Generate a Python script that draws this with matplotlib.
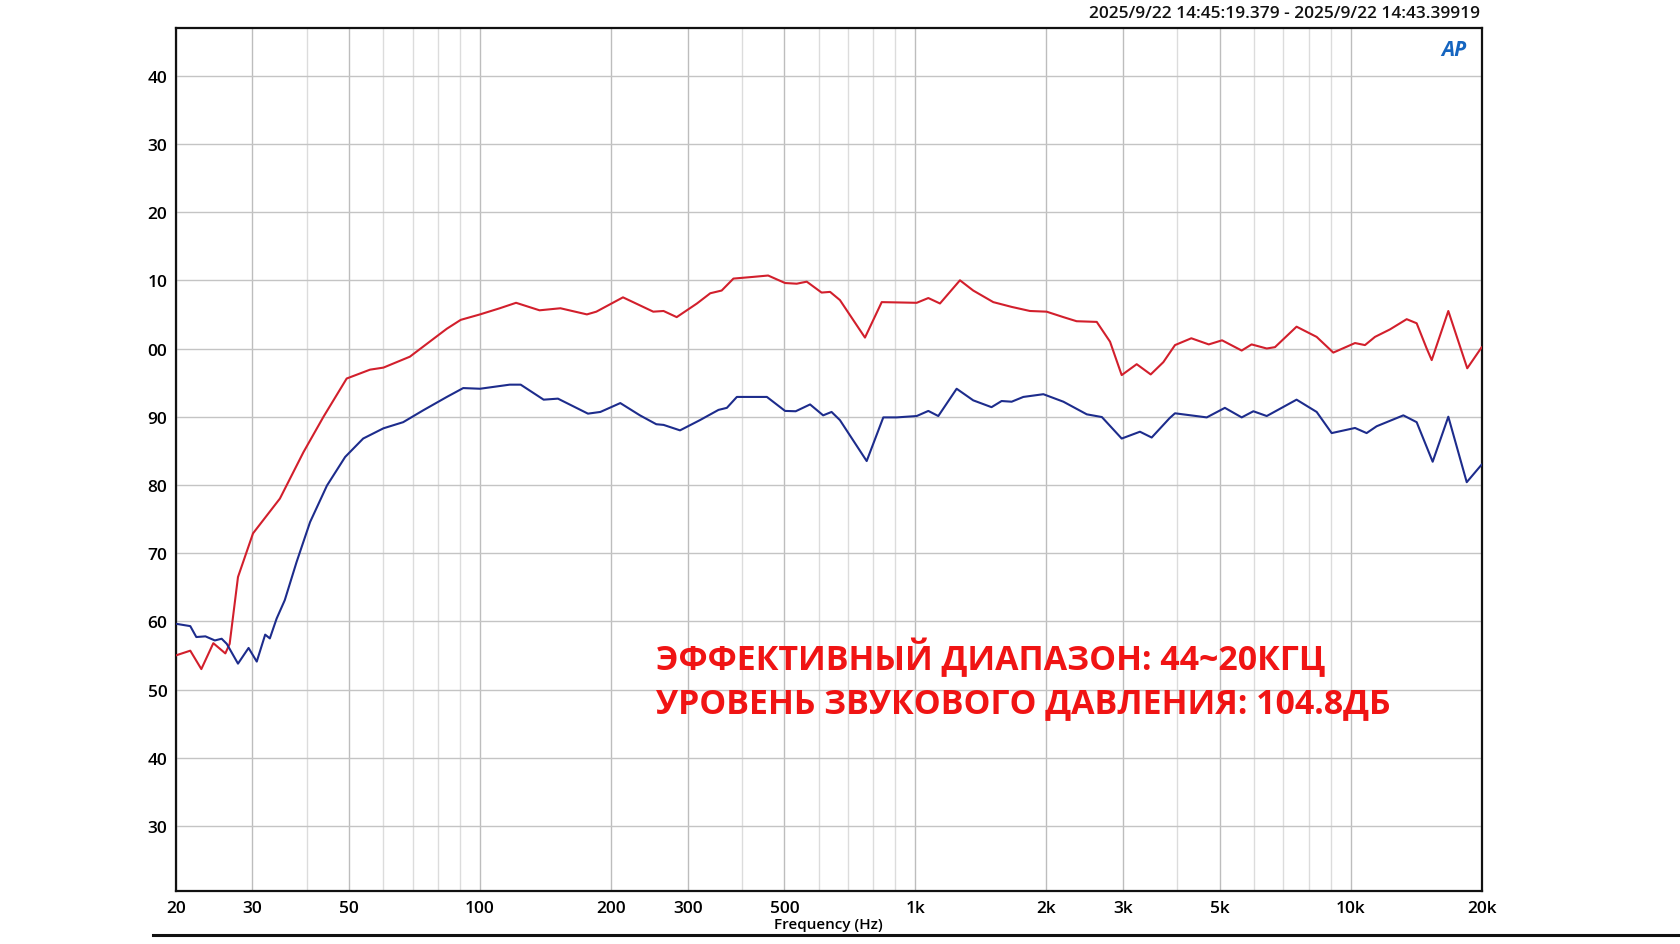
import numpy as np
import matplotlib
matplotlib.use("Agg")
import matplotlib.pyplot as plt
from matplotlib.lines import Line2D

# ---------------- data ----------------
red_freq = [20, 21.6, 22.9, 24.4, 26.0, 26.6, 27.8, 30.1, 34.7, 39.3, 43.7, 49.4, 55.9, 60.0,
            69.0, 83.9, 90.3, 100, 111, 121, 137, 153, 176, 185, 213, 250, 264, 283, 315, 338,
            359, 382, 424, 459, 502, 534, 563, 609, 637, 671, 766, 837, 1007, 1071, 1139, 1266,
            1358, 1510, 1664, 1833, 2002, 2188, 2346, 2610, 2800, 2978, 3224, 3472, 3712, 3948,
            4304, 4720, 5064, 5618, 5920, 6414, 6700, 7510, 8352, 9120, 10230, 10784, 11368,
            12308, 13446, 14174, 14946, 15348, 16758, 18522, 20000]
red_db = [55.0, 55.7, 53.0, 56.8, 55.3, 56.7, 66.5, 72.9, 78.0, 84.8, 90.0, 95.6, 96.9, 97.2,
          98.8, 102.9, 104.2, 105.0, 105.9, 106.7, 105.6, 105.9, 105.0, 105.4, 107.5, 105.4,
          105.5, 104.6, 106.6, 108.1, 108.5, 110.25, 110.5, 110.7, 109.6, 109.5, 109.8, 108.2,
          108.3, 107.1, 101.6, 106.8, 106.7, 107.4, 106.6, 110.0, 108.5, 106.8, 106.1, 105.5,
          105.4, 104.6, 104.0, 103.9, 101.0, 96.1, 97.7, 96.2, 98.0, 100.5, 101.5, 100.6, 101.2,
          99.7, 100.6, 100.0, 100.2, 103.2, 101.7, 99.4, 100.8, 100.5, 101.7, 102.8, 104.3,
          103.7, 100.0, 98.3, 105.5, 97.1, 100.2]

blue_freq = [20, 21.6, 22.3, 23.4, 24.6, 25.5, 26.2, 27.8, 29.4, 30.7, 32.1, 32.9, 34.1, 35.6,
             37.9, 40.7, 44.5, 49.0, 53.9, 60.0, 66.6, 74.1, 83.9, 91.5, 100, 117, 124, 140, 151,
             177, 189, 210, 233, 254, 264, 288, 320, 353, 369, 389, 456, 502, 531, 573, 614, 642,
             671, 773, 844, 906, 1007, 1071, 1129, 1244, 1358, 1496, 1578, 1664, 1770, 1968,
             2188, 2476, 2682, 2978, 3280, 3490, 3838, 3948, 4670, 5140, 5618, 5976, 6414, 7510,
             8352, 9042, 10230, 10878, 11470, 13210, 14174, 15426, 16758, 18472, 20000]
blue_db = [59.65, 59.3, 57.7, 57.8, 57.2, 57.45, 56.7, 53.8, 56.1, 54.1, 58.05, 57.5, 60.4, 63.1,
           68.7, 74.55, 79.9, 84.1, 86.8, 88.3, 89.2, 90.95, 92.9, 94.2, 94.1, 94.7, 94.7, 92.5,
           92.65, 90.45, 90.7, 92.0, 90.2, 88.9, 88.8, 88.0, 89.5, 91.0, 91.3, 92.9, 92.9, 90.85,
           90.8, 91.8, 90.2, 90.7, 89.5, 83.5, 89.9, 89.9, 90.1, 90.85, 90.1, 94.1, 92.4, 91.4,
           92.3, 92.2, 92.9, 93.3, 92.2, 90.35, 89.95, 86.8, 87.8, 86.95, 89.8, 90.5, 89.9, 91.3,
           89.9, 90.8, 90.1, 92.5, 90.7, 87.6, 88.35, 87.6, 88.6, 90.2, 89.2, 83.4, 90.0, 80.4,
           83.0]

x_ticks = [20, 30, 50, 100, 200, 300, 500, 1000, 2000, 3000, 5000, 10000, 20000]
x_tick_labels = ["20", "30", "50", "100", "200", "300", "500", "1k", "2k", "3k", "5k", "10k", "20k"]
y_ticks = [30, 40, 50, 60, 70, 80, 90, 100, 110, 120, 130, 140]
y_tick_labels = ["%02d" % (v % 100) for v in y_ticks]   # left digit is cut off in the source

grid_freqs = [m * d for d in (10, 100, 1000, 10000) for m in range(1, 10)
              if 20 <= m * d <= 20000] + [20000]

timestamp = "2025/9/22 14:45:19.379 - 2025/9/22 14:43.39919"
note_line1 = "ЭФФЕКТИВНЫЙ ДИАПАЗОН: 44~20КГЦ"
note_line2 = "УРОВЕНЬ ЗВУКОВОГО ДАВЛЕНИЯ: 104.8ДБ"

# ---------------- figure ----------------
plt.rcParams['font.family'] = ['Open Sans', 'DejaVu Sans']
fig = plt.figure(figsize=(16.8, 9.45), dpi=100)
fig.patch.set_facecolor('white')
ax = fig.add_axes([0.1046, 0.0556, 0.882 - 0.1046, 0.9694 - 0.0556])

for f in grid_freqs:
    major = f in x_ticks
    ax.axvline(f, color='#bdbdbd' if major else '#dcdcdc', lw=1.0, zorder=0)
for v in y_ticks:
    ax.axhline(v, color='#c4c4c4', lw=1.0, zorder=0)

ax.plot(red_freq, red_db, color='#d21f2c', lw=1.5, zorder=3,
        solid_joinstyle='round', solid_capstyle='round')
ax.plot(blue_freq, blue_db, color='#1d2c8c', lw=1.5, zorder=3,
        solid_joinstyle='round', solid_capstyle='round')

ax.set_xscale('log')
ax.set_xlim(20, 20000)
ax.set_ylim(20.4, 147)
ax.minorticks_off()
ax.set_xticks(x_ticks)
ax.set_xticklabels(x_tick_labels)
ax.set_yticks(y_ticks)
ax.set_yticklabels(y_tick_labels)
ax.tick_params(axis='both', length=0, labelsize=12.5)
ax.tick_params(axis='x', pad=6)
ax.tick_params(axis='y', pad=6)
for lab in ax.get_xticklabels() + ax.get_yticklabels():
    lab.set_fontweight('semibold')
for s in ax.spines.values():
    s.set_color('#111111')
    s.set_linewidth(1.6)

ax.set_xlabel("Frequency (Hz)", fontsize=11, fontweight='semibold', labelpad=1)

# timestamp and logo
fig.text(0.881, 1 - 14 / 945, timestamp, ha='right', va='center', fontsize=12.5,
         fontweight='semibold', color='#111111')
ax.text(0.9785, 0.9745, "AP", transform=ax.transAxes, ha='center', va='center',
        fontsize=15, fontweight='bold', style='italic', color='#1565c0')

# bottom rule
fig.add_artist(Line2D([0.091, 1.0], [1 - 936 / 945, 1 - 936 / 945], color='#111111', lw=2.2))

# red annotation, sized so the second line spans the same width as in the source
fam = ['Open Sans', 'DejaVu Sans']
t1 = fig.text(656 / 1680, 1 - 658 / 945, note_line1, color='#f01414', fontsize=30,
              fontweight='bold', family=fam, ha='left', va='center')
t2 = fig.text(656 / 1680, 1 - 704 / 945, note_line2, color='#f01414', fontsize=30,
              fontweight='bold', family=fam, ha='left', va='center')
fig.canvas.draw()
w2 = t2.get_window_extent().width
fs = 30 * 735 / w2
t1.set_fontsize(fs)
t2.set_fontsize(fs)

fig.savefig("out.png", dpi=100, facecolor='white')
